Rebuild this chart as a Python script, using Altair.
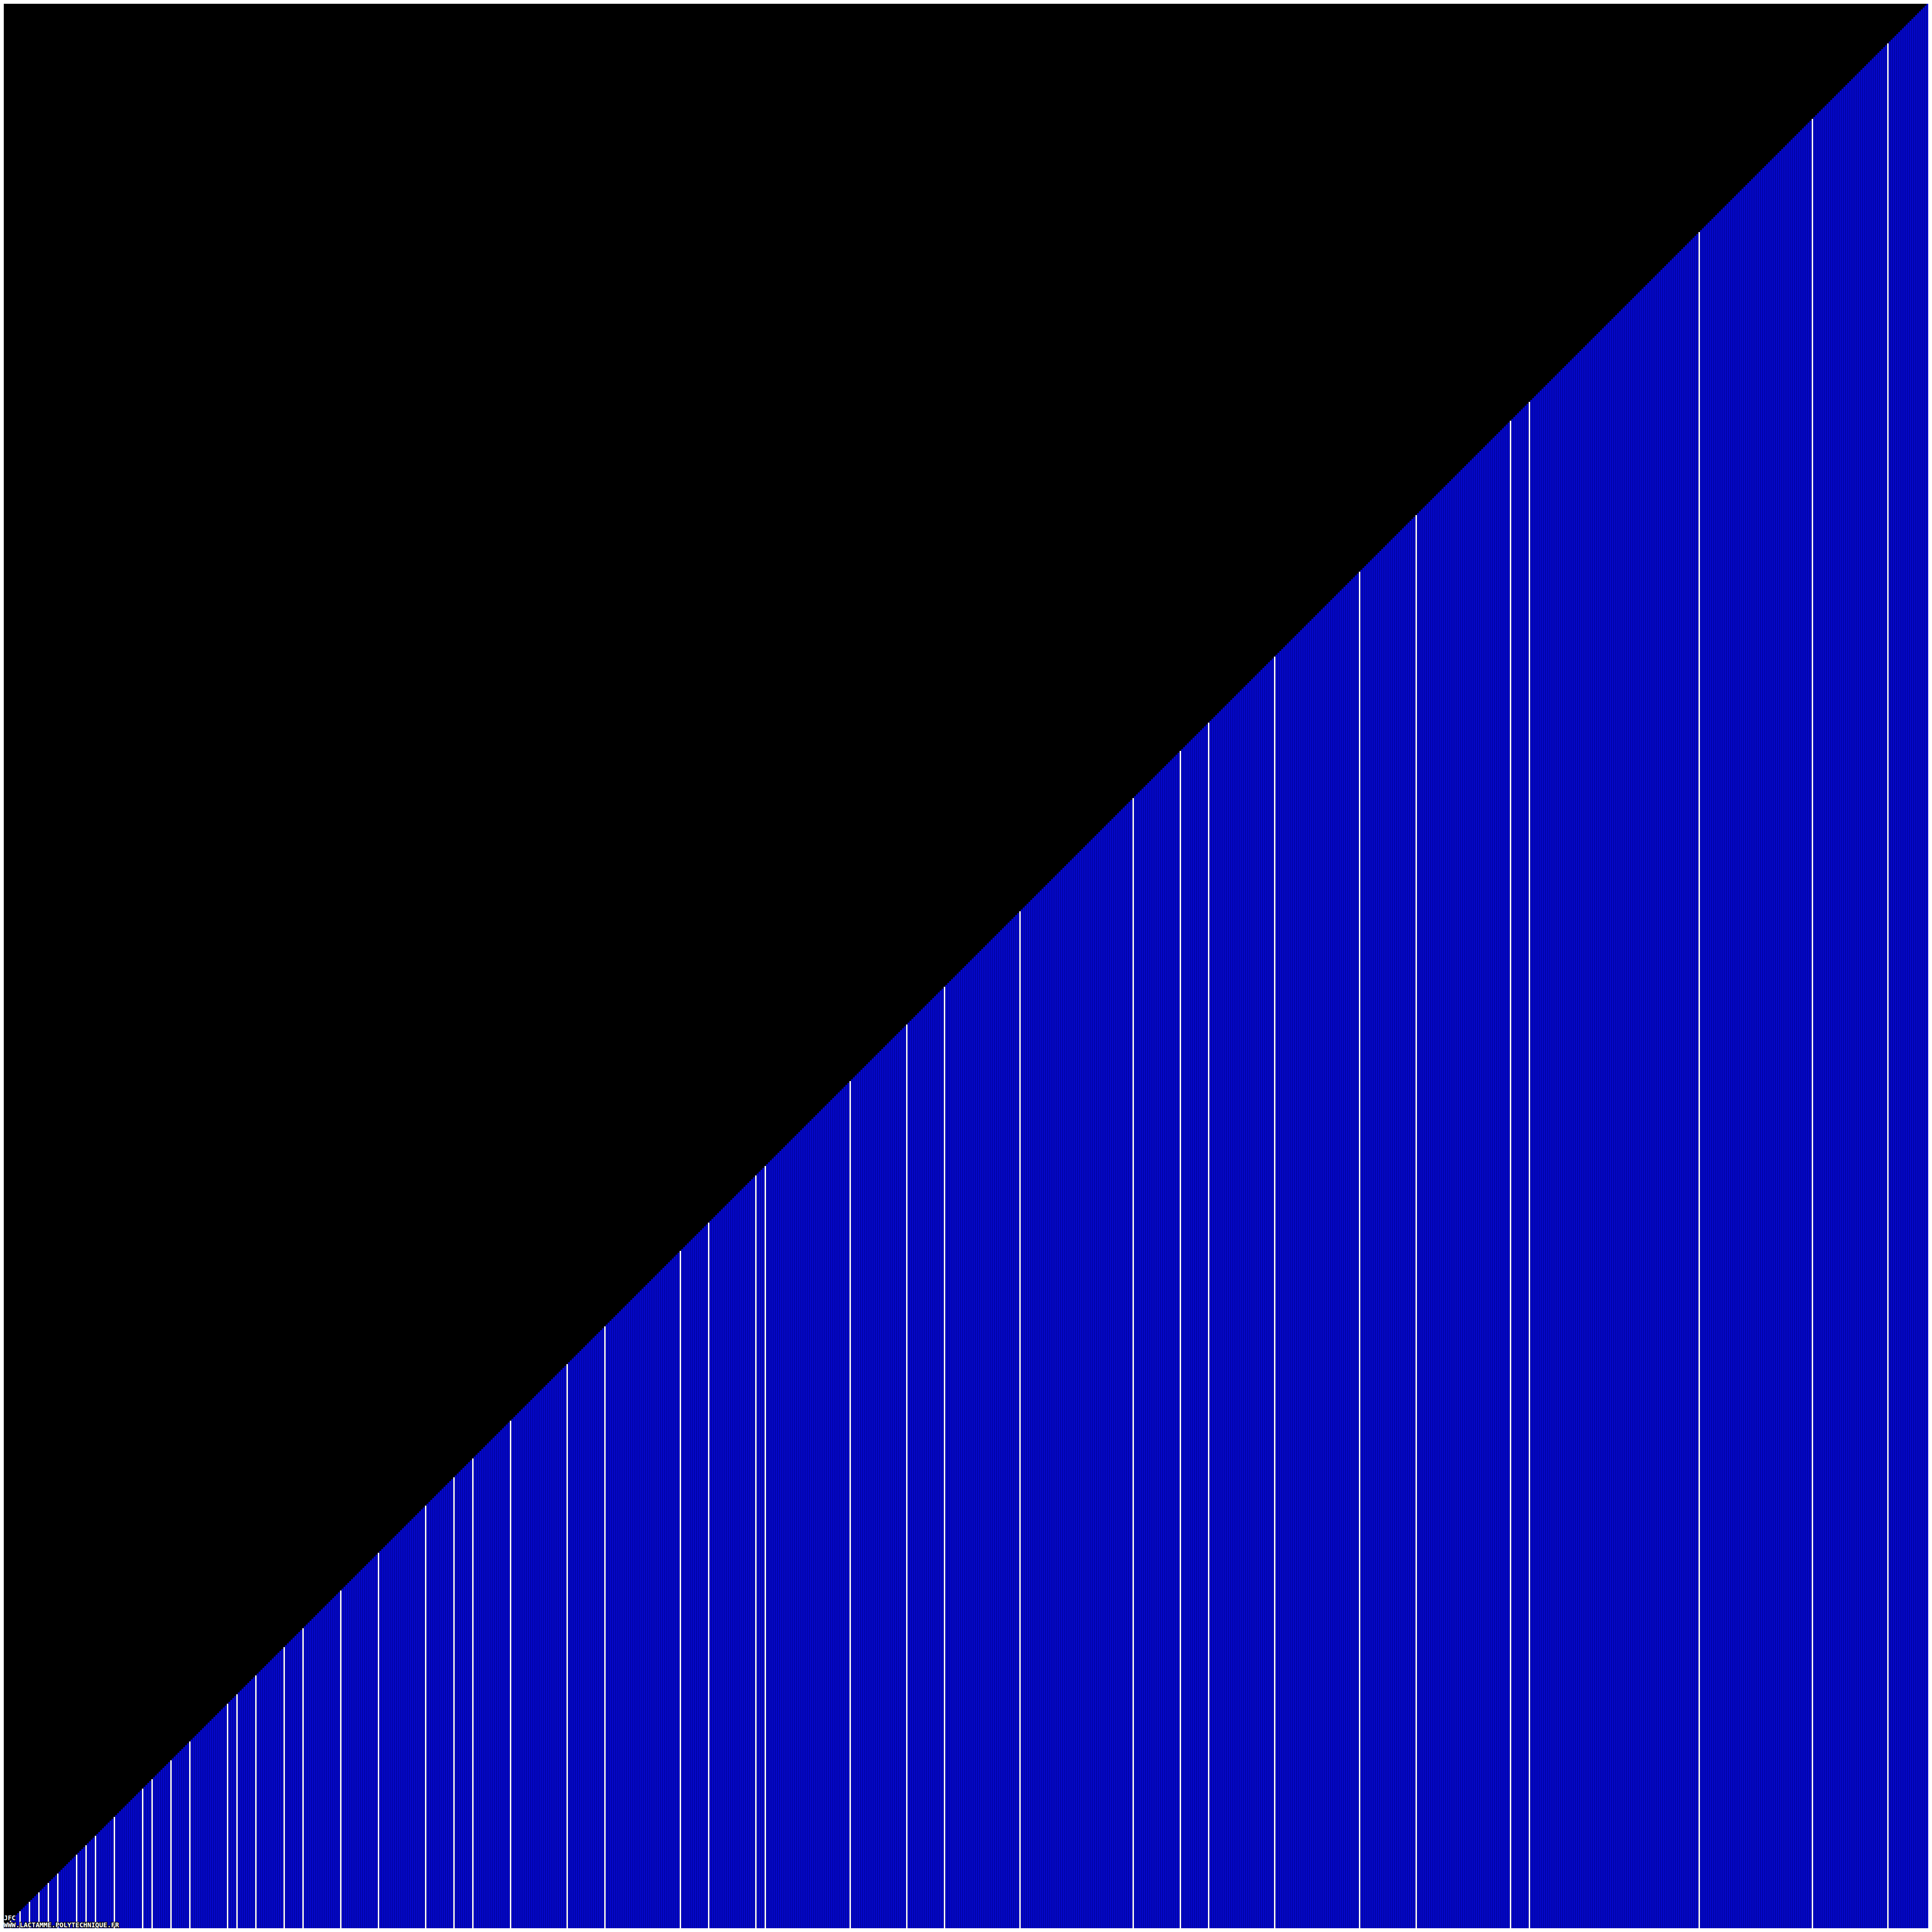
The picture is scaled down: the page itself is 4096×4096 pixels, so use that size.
import altair as alt
import pandas as pd

# Bars: one per integer index 0..1023, bar height = index + 1 (staircase)
bar_index = list(range(0, 1024))
bar_height = [i + 1 for i in bar_index]

# Highlighted (white) bars: index = 5 x (5-smooth number <= 200)
highlight_index = [5, 10, 15, 20, 25, 30, 40, 45, 50, 60, 75, 80, 90, 100, 120, 125,
                   135, 150, 160, 180, 200, 225, 240, 250, 270, 300, 320, 360, 375,
                   400, 405, 450, 480, 500, 540, 600, 625, 640, 675, 720, 750, 800,
                   810, 900, 960, 1000]

credit_lines = ["JFC", "WWW.LACTAMME.POLYTECHNIQUE.FR"]
credit_baseline = [4071, 4086]

DARK = "#000082"
BRIGHT = "#0408cc"
WHITE = "#ffffff"

bars = pd.DataFrame({"i": bar_index, "h": bar_height})
bars["x0"] = bars["i"]
bars["xb"] = bars["i"] + 0.25
bars["x1"] = bars["i"] + 1

hl = bars[bars["i"].isin(highlight_index)].copy()

W = 4080
H = 4080
xs = alt.Scale(domain=[2, 1022], zero=False, nice=False)
ys = alt.Scale(domain=[2, 1022], zero=False, nice=False)

base = alt.Chart(bars)

dark = base.mark_rect(color=DARK, strokeWidth=0).encode(
    x=alt.X("x0:Q", scale=xs, axis=None),
    x2="x1:Q",
    y=alt.Y("h:Q", scale=ys, axis=None),
    y2=alt.datum(0),
)
bright = base.mark_rect(color=BRIGHT, strokeWidth=0).encode(
    x=alt.X("xb:Q", scale=xs, axis=None),
    x2="x1:Q",
    y=alt.Y("h:Q", scale=ys, axis=None),
    y2=alt.datum(0),
)
white = alt.Chart(hl).mark_rect(color=WHITE, strokeWidth=0).encode(
    x=alt.X("xb:Q", scale=xs, axis=None),
    x2="x1:Q",
    y=alt.Y("h:Q", scale=ys, axis=None),
    y2=alt.datum(0),
)

txt = pd.DataFrame({"t": credit_lines, "py": [b - 8 for b in credit_baseline]})
tscale = alt.Scale(domain=[0, H], range=[0, H])
txt_outline = alt.Chart(txt).mark_text(
    font="DejaVu Sans Mono", fontWeight="bold", fontSize=14, align="left",
    baseline="alphabetic", color="black", stroke="black", strokeWidth=3,
).encode(x=alt.value(0), y=alt.Y("py:Q", scale=tscale, axis=None), text="t:N")
txt_fill = alt.Chart(txt).mark_text(
    font="DejaVu Sans Mono", fontWeight="bold", fontSize=14, align="left",
    baseline="alphabetic", color="white",
).encode(x=alt.value(0), y=alt.Y("py:Q", scale=tscale, axis=None), text="t:N")

chart = alt.layer(dark, bright, white, txt_outline, txt_fill).resolve_scale(y="independent").properties(
    width=W, height=H, background="black", padding=0,
    autosize=alt.AutoSizeParams(type="none"),
).configure_view(stroke=None, fill="black")

chart.save("out.html", embed_options={"renderer": "svg", "actions": False})
